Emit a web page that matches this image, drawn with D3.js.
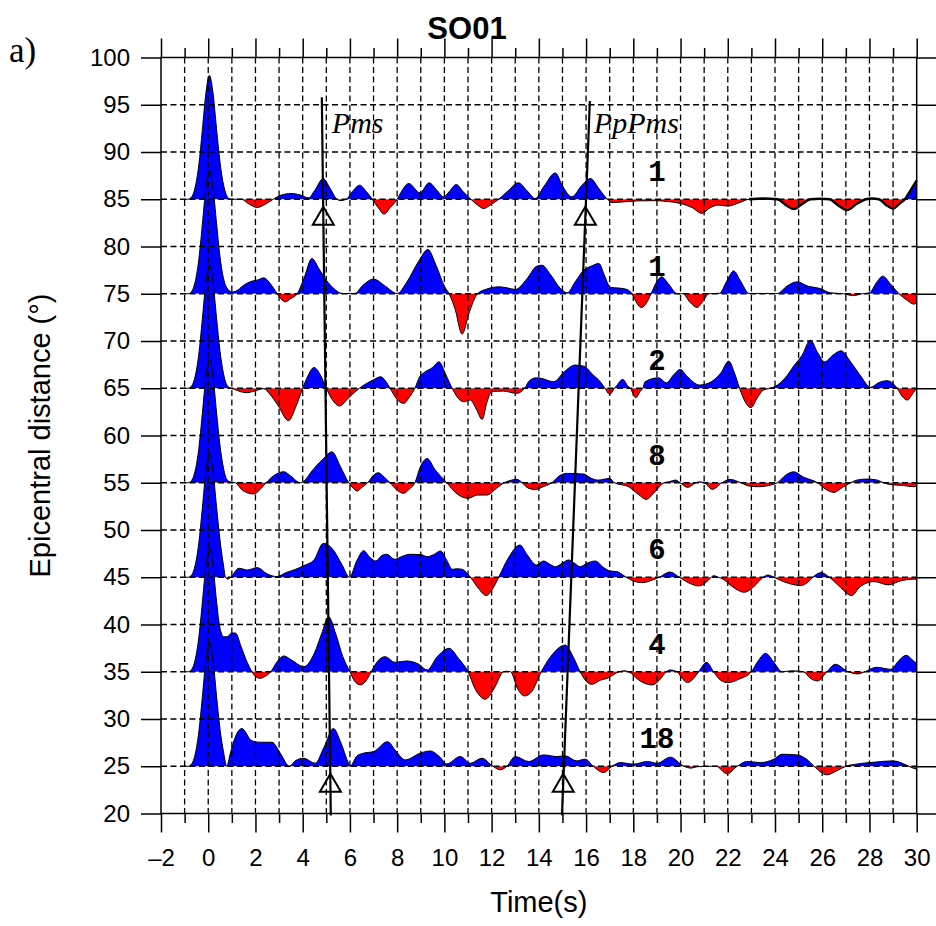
<!DOCTYPE html>
<html>
<head>
<meta charset="utf-8">
<script src="https://cdn.jsdelivr.net/npm/d3@7"></script>
<style>
  body { margin: 0; background: #fff; }
  svg { display: block; }
</style>
</head>
<body>
<svg id="chart" width="936" height="926"></svg>
<script>
// ---- labels ----
const titleText = "SO01";
const panelTag = "a)";
const xLabel = "Time(s)";
const yLabel = "Epicentral distance (°)";

// ---- axes ----
const xMajorTicks = [-2, 0, 2, 4, 6, 8, 10, 12, 14, 16, 18, 20, 22, 24, 26, 28, 30];
const xMinorTicks = [-1, 1, 3, 5, 7, 9, 11, 13, 15, 17, 19, 21, 23, 25, 27, 29];
const yTicks = [20, 25, 30, 35, 40, 45, 50, 55, 60, 65, 70, 75, 80, 85, 90, 95, 100];

// ---- stacked receiver functions: baseline distance and trace count ----
const traceOffsets = [85, 75, 65, 55, 45, 35, 25];
const traceCounts = ["1", "1", "2", "8", "6", "4", "18"];

// each trace: [time (s), amplitude]
const trace85 = [[-1,0],[-0.85,0],[-0.7,0.25],[-0.55,1.3],[-0.4,3.6],[-0.25,7.3],[-0.1,11.2],[0.05,13.1],[0.2,11.3],[0.35,7.5],[0.5,3.9],[0.65,1.5],[0.8,0.3],[0.95,0],
  [1.4,0],[1.75,-0.55],[2.07,-0.87],[2.4,-0.55],[2.75,0],
  [3.1,0.45],[3.5,0.61],[3.9,0.45],[4.25,0.15],
  [4.5,0.9],[4.87,2.19],[5.15,1.2],[5.45,0],[5.6,-0.15],[5.85,0],
  [6.1,0.8],[6.41,1.49],[6.7,0.8],[6.95,0],
  [7.2,-0.9],[7.45,-1.57],[7.7,-0.9],[8.0,0],
  [8.2,0.9],[8.49,1.67],[8.97,0.68],[9.35,1.74],[9.7,0.9],[9.97,0.26],
  [10.2,0.8],[10.5,1.56],[10.8,0.8],[11.12,0],
  [11.4,-0.6],[11.66,-0.98],[11.95,-0.6],[12.3,0],
  [12.7,0.9],[13.13,1.74],[13.5,0.9],[13.85,0.08],
  [14.2,1.3],[14.7,2.79],[15.0,1.4],[15.4,0.26],[15.8,1.4],[16.18,2.19],[16.55,1.1],[16.9,0],
  [17.1,-0.35],[17.5,-0.3],[18.2,-0.17],[18.9,-0.15],[19.5,-0.25],[20.0,-0.45],[20.5,-0.9],[20.9,-1.5],[21.25,-0.9],[21.6,-0.62],[22.0,-0.73],[22.5,-0.35],[22.9,0],
  [23.5,0.08],[24.1,0],
  [24.45,-0.6],[24.8,-1.05],[25.15,-0.5],[25.5,0],
  [25.9,0.05],[26.3,0],
  [26.65,-0.6],[27.05,-1.15],[27.45,-0.5],[27.85,0],
  [28.1,0.08],[28.4,0],
  [28.7,-0.6],[29.0,-0.98],[29.3,-0.4],[29.5,0],
  [29.75,1.0],[30,2.0]];

const trace75 = [[-1,0],[-0.85,0],[-0.7,0.25],[-0.55,1.3],[-0.4,3.6],[-0.25,7.3],[-0.1,11.2],[0.05,13.1],[0.2,11.3],[0.35,7.5],[0.5,3.9],[0.65,1.6],[0.8,0.6],[1.0,0.2],[1.15,0.25],
  [1.5,0.9],[1.8,1.3],[2.07,1.44],[2.35,1.68],[2.65,1.0],[2.92,0],
  [3.1,-0.6],[3.27,-0.85],[3.5,-0.5],[3.77,0],
  [4.05,1.6],[4.39,3.73],[4.7,2.6],[5.0,1.44],[5.3,0.6],[5.67,0.03],[6.2,0.03],
  [6.55,0.9],[7.0,1.55],[7.5,0.8],[8.0,0.03],
  [8.4,1.2],[8.9,3.4],[9.3,4.68],[9.65,3.0],[10.0,0.8],[10.2,0],
  [10.45,-1.6],[10.75,-4.27],[11.05,-2.0],[11.4,0],
  [11.8,0.5],[12.3,0.73],[12.7,0.6],[13.0,0.45],[13.5,1.6],[13.9,2.9],[14.13,3.02],[14.5,2.0],[14.9,0.6],[15.2,0.1],
  [15.55,1.3],[15.9,2.5],[16.2,2.9],[16.54,3.2],[16.8,1.8],[17.03,0.66],[17.4,0.6],[17.73,0.45],[17.95,0],
  [18.15,-1.0],[18.35,-1.45],[18.55,-1.0],[18.75,0],
  [19.0,1.3],[19.2,1.79],[19.5,1.0],[19.86,0],[20.1,0],
  [20.4,-0.9],[20.7,-1.45],[20.95,-0.8],[21.2,0],[21.65,0.05],
  [21.95,1.3],[22.25,2.42],[22.55,1.3],[22.9,0.03],[24.1,0.03],
  [24.5,0.8],[24.93,1.26],[25.4,0.8],[25.9,0.56],[26.35,0.1],[26.9,0],
  [27.3,-0.2],[27.7,0],[28.0,0.1],
  [28.3,1.2],[28.56,1.86],[28.9,1.0],[29.25,0],
  [29.6,-0.7],[29.88,-1.1],[30,-0.9]];

const trace65 = [[-1,0],[-0.85,0],[-0.7,0.25],[-0.55,1.3],[-0.4,3.6],[-0.25,7.3],[-0.1,11.2],[0.05,13.1],[0.2,11.3],[0.35,7.5],[0.5,3.9],[0.65,1.5],[0.8,0.3],[0.95,0],
  [1.1,-0.1],[1.35,-0.35],[1.65,-0.47],[1.95,-0.3],[2.35,-0.05],
  [2.6,-0.6],[2.95,-1.8],[3.4,-3.43],[3.7,-2.0],[4.0,0],
  [4.2,1.2],[4.48,2.2],[4.75,1.4],[5.0,0],
  [5.25,-1.2],[5.56,-1.88],[5.95,-1.0],[6.4,0],
  [6.7,0.5],[7.0,0.9],[7.3,1.22],[7.5,0.8],[7.7,0],
  [8.0,-1.2],[8.28,-1.6],[8.5,-1.0],[8.75,0],
  [8.95,1.2],[9.13,1.64],[9.5,2.2],[9.77,2.8],[10.05,1.5],[10.33,0],
  [10.6,-1.1],[10.83,-1.43],[11.1,-1.25],[11.35,-2.2],[11.6,-3.3],[11.8,-1.5],[12.0,-0.37],[12.5,-0.3],[13.06,-0.54],[13.4,0],
  [13.6,0.8],[13.9,1.11],[14.1,1.05],[14.62,0.69],[15.1,1.8],[15.53,2.45],[15.9,2.34],[16.3,1.4],[16.6,0.69],[16.8,0],
  [17.0,-0.65],[17.2,0],[17.3,0.3],[17.55,0.94],[17.75,0.3],[17.87,0],
  [18.1,-1.0],[18.3,-0.3],[18.4,0],
  [18.5,0.69],[19.07,1.11],[19.4,0.58],[19.7,1.4],[19.98,1.99],[20.3,1.2],[20.8,0.34],[21.3,0.69],[21.7,1.6],[22.04,2.87],[22.3,1.5],[22.5,0],
  [22.75,-1.5],[22.98,-2.06],[23.25,-1.0],[23.5,-0.2],[23.8,0],
  [24.1,0.34],[24.5,1.3],[24.8,2.38],[25.15,3.5],[25.5,5.09],[25.8,3.8],[26.1,2.8],[26.45,3.5],[26.8,3.96],[27.2,2.8],[27.6,1.39],[28.05,0.1],[28.4,0.6],[28.75,0.8],[29.0,0.5],[29.17,0],
  [29.4,-0.9],[29.6,-1.25],[29.85,-0.5],[30,0]];

const trace55 = [[-1,0],[-0.85,0],[-0.7,0.25],[-0.55,1.3],[-0.4,3.6],[-0.25,7.3],[-0.1,11.2],[0.05,13.1],[0.2,11.3],[0.35,7.5],[0.5,3.9],[0.65,1.5],[0.8,0.3],[1.0,0.05],[1.15,0],
  [1.45,-0.8],[1.93,-1.19],[2.2,-0.7],[2.45,0],
  [2.8,0.8],[3.2,1.17],[3.5,0.7],[3.9,0],[4.0,0.1],
  [4.48,1.52],[4.9,2.6],[5.24,3.27],[5.6,1.7],[5.95,0],
  [6.15,-0.6],[6.31,-0.88],[6.5,-0.5],[6.75,0],
  [7.0,0.8],[7.2,1.06],[7.45,0.6],[7.7,0],
  [8.0,-0.8],[8.28,-1.12],[8.5,-0.7],[8.75,0],
  [9.0,1.8],[9.27,2.57],[9.6,1.4],[10.1,0],
  [10.5,-1.1],[11.0,-1.65],[11.4,-1.3],[11.8,-1.3],[12.2,-0.6],[12.53,0],
  [12.8,0.25],[13.06,0.36],[13.3,0],
  [13.5,-0.5],[13.85,-0.72],[14.2,-0.4],[14.55,0],
  [14.85,0.7],[15.2,0.99],[15.9,0.92],[16.2,0.5],[16.5,0.28],[17.0,0.46],[17.2,0],
  [17.8,-0.42],[18.2,-1.2],[18.55,-1.76],[18.9,-1.0],[19.3,0],
  [19.5,0.1],[19.8,0.28],[19.98,0],
  [20.3,-0.49],[20.65,0],[20.8,0.1],[21.0,0],
  [21.35,-0.7],[21.75,0],
  [22.1,0.35],[22.56,0],
  [22.9,-0.35],[23.3,-0.42],[23.8,-0.25],[24.1,0],
  [24.45,0.8],[24.8,1.16],[25.2,0.6],[25.8,0],
  [26.15,-0.7],[26.5,-1.02],[26.85,-0.5],[27.2,0],
  [27.5,0.3],[27.9,0.39],[28.3,0.3],[28.6,0],
  [28.9,-0.2],[29.4,-0.28],[29.9,-0.42],[30,-0.35]];

const trace45 = [[-1,0],[-0.85,0],[-0.7,0.25],[-0.55,1.3],[-0.4,3.6],[-0.25,7.3],[-0.1,11.2],[0.05,13.1],[0.2,11.3],[0.35,7.5],[0.5,3.9],[0.65,1.2],[0.73,0],[0.83,-0.2],[0.95,0],
  [1.3,0.95],[1.66,0.77],[2.07,1.02],[2.5,0.35],[2.9,0.07],
  [3.3,0.5],[3.63,0.77],[4.05,1.23],[4.48,1.83],[4.87,3.58],[5.24,3.06],[5.67,1.3],[5.98,0],
  [6.3,1.8],[6.58,2.81],[6.85,2.1],[7.1,1.72],[7.35,2.3],[7.56,2.43],[7.9,1.9],[8.2,2.2],[8.55,2.43],[9.0,2.4],[9.27,2.18],[9.55,2.4],[9.83,2.78],[10.1,1.8],[10.33,0.84],[10.55,0.9],[10.75,0.84],[11.1,0],
  [11.45,-1.2],[11.77,-1.94],[12.05,-1.2],[12.3,0],
  [12.7,2.0],[13.2,3.41],[13.5,2.4],[13.9,1.3],[14.2,1.72],[14.45,1.4],[14.7,1.12],[15.0,1.5],[15.26,1.83],[15.5,1.5],[15.75,1.12],[16.05,1.5],[16.4,1.72],[16.7,1.1],[17.03,0.66],[17.3,0.6],[17.7,0],
  [18.0,-0.4],[18.4,-0.57],[18.8,-0.3],[19.1,0],
  [19.55,0.56],[19.95,0],
  [20.35,-0.6],[20.77,-0.92],[21.1,-0.5],[21.3,0],[21.4,0.17],[21.6,0],
  [21.8,-0.2],[22.2,-1.0],[22.7,-1.59],[23.1,-1.0],[23.5,0],
  [23.7,0.24],[23.95,0],
  [24.4,-0.5],[25.1,-0.88],[25.4,-0.5],[25.6,0],
  [25.95,0.49],[26.3,0],
  [26.7,-0.9],[27.25,-1.94],[27.6,-1.0],[28.2,-0.46],[28.8,-0.81],[29.3,-0.4],[29.86,-0.2],[30,-0.2]];

const trace35 = [[-1,0],[-0.85,0],[-0.7,0.25],[-0.55,1.3],[-0.4,3.6],[-0.25,7.3],[-0.1,11.2],[0.05,13.1],[0.2,11.3],[0.35,7.5],[0.5,4.6],[0.66,3.7],[0.8,3.7],[1.0,4.1],[1.15,4.1],[1.4,2.6],[1.65,1.0],[1.85,0],
  [2.0,-0.5],[2.2,-0.69],[2.4,-0.5],[2.65,0],
  [2.9,1.0],[3.2,1.67],[3.55,1.2],[4.05,0.54],
  [4.5,2.0],[4.8,4.0],[5.1,5.82],[5.4,4.0],[5.7,1.6],[6.0,0],
  [6.2,-1.0],[6.45,-1.39],[6.7,-0.9],[6.9,0],
  [7.2,1.2],[7.49,1.6],[7.9,1.0],[8.4,1.14],[8.9,0.82],[9.27,0.19],
  [9.7,1.6],[10.2,2.48],[10.6,1.4],[11.0,0],
  [11.3,-1.8],[11.73,-2.91],[12.1,-1.8],[12.5,0],[12.6,0.05],[12.8,0],
  [13.1,-1.8],[13.4,-2.56],[13.7,-2.1],[14.1,0],
  [14.5,1.6],[15.12,2.82],[15.45,1.6],[15.75,0],
  [16.0,-1.0],[16.25,-1.33],[16.6,-0.9],[16.9,-0.69],[17.4,0],[17.6,0.1],[17.8,0],
  [18.3,-1.0],[18.8,-1.4],[19.1,-0.9],[19.4,0],
  [19.55,0.19],[19.85,0],
  [20.1,-0.8],[20.3,-1.15],[20.55,-0.7],[20.77,0],
  [21.1,1.0],[21.4,0],
  [21.7,-0.9],[22.0,-1.15],[22.5,-0.76],[23.0,0],
  [23.3,1.2],[23.6,1.95],[23.95,1.0],[24.3,0],
  [24.7,0.1],[25.2,0],
  [25.5,-0.7],[25.8,-0.97],[26.2,0],
  [26.55,0.79],[27.1,0],
  [27.5,-0.23],[27.8,0],
  [28.3,0.47],[28.9,0.26],[29.25,1.2],[29.55,1.74],[29.9,1.07],[30,0.9]];

const trace25 = [[-1,0],[-0.85,0],[-0.7,0.25],[-0.55,1.3],[-0.4,3.6],[-0.25,7.3],[-0.1,11.2],[0.05,13.1],[0.2,11.3],[0.35,7.5],[0.5,3.9],[0.65,1.5],[0.78,0],
  [0.95,1.5],[1.2,3.4],[1.42,4.0],[1.84,2.71],[2.2,2.54],[2.7,2.54],[3.05,1.38],[3.44,0],
  [3.7,0.6],[4.04,0.85],[4.53,0.32],
  [4.9,2.0],[5.3,4.0],[5.6,2.6],[5.94,0.3],[6.0,0],
  [6.3,1.1],[6.57,1.38],[7.0,1.55],[7.59,2.6],[7.95,1.6],[8.34,0.67],[8.97,1.38],[9.4,1.62],[9.8,1.0],[10.1,0.25],[10.67,1.03],[11.1,0.32],[11.59,0.85],[12.05,0],
  [12.37,-0.38],[12.65,0],
  [13.0,1.03],[13.57,0.5],[14.2,1.2],[14.77,1.03],[15.12,1.1],[15.6,0.57],[15.97,0.75],[16.3,0],
  [16.74,-0.67],[17.1,0],
  [17.45,0.39],[18.0,0.22],[18.6,0.5],[19.0,0.32],[19.57,0.96],[20.14,0],
  [20.45,-0.2],[20.7,-0.05],[21.5,0],
  [21.97,-0.8],[22.4,0],
  [22.8,0.5],[23.4,0.39],[23.95,0.75],[24.3,1.27],[24.94,1.2],[25.37,0.68],[25.65,0],
  [26.2,-0.91],[26.6,-0.5],[27.0,0],
  [27.5,0.25],[28.2,0.43],[29.0,0.57],[29.67,0],
  [29.85,-0.2],[30,-0.3]];

const traceSeries = [trace85, trace75, trace65, trace55, trace45, trace35, trace25];

// predicted phase moveouts: [time, distance] end points
const pmsLine = [[4.81, 95.8], [5.19, 19.8]];
const ppPmsLine = [[16.16, 95.4], [14.98, 19.8]];
const markerDistances = [83.2, 23.2];
const countLabelTime = 19;
const countLabelLift = 1.9;

// ---- drawing ----
const svg = d3.select("#chart");
const x = d3.scaleLinear().domain([-2, 30]).range([161, 916.7]);
const y = d3.scaleLinear().domain([20, 100]).range([813.5, 57.5]);
const BLUE = "#0000ff", RED = "#ff0000";

const defs = svg.append("defs");
const traceLayer = svg.append("g");

traceOffsets.forEach((base, i) => {
  const pts = traceSeries[i];
  const by = y(base);
  defs.append("clipPath").attr("id", "pos" + i)
    .append("rect").attr("x", 0).attr("y", 0).attr("width", 936).attr("height", by);
  defs.append("clipPath").attr("id", "neg" + i)
    .append("rect").attr("x", 0).attr("y", by).attr("width", 936).attr("height", 926 - by);

  const area = d3.area()
    .x(d => x(d[0]))
    .y0(by)
    .y1(d => y(base + d[1]))
    .curve(d3.curveMonotoneX);
  const line = d3.line()
    .x(d => x(d[0]))
    .y(d => y(base + d[1]))
    .curve(d3.curveMonotoneX);

  const g = traceLayer.append("g");
  g.append("path").datum(pts).attr("d", area).attr("fill", BLUE).attr("clip-path", `url(#pos${i})`);
  g.append("path").datum(pts).attr("d", area).attr("fill", RED).attr("clip-path", `url(#neg${i})`);
  g.append("path").datum(pts).attr("d", line).attr("fill", "none").attr("stroke", "#000").attr("stroke-width", 1);
  if (base === 85) {
    g.append("path").datum(pts.filter(d => d[0] >= 22.9)).attr("d", line)
      .attr("fill", "none").attr("stroke", "#000").attr("stroke-width", 2.4);
  }
});

// dashed grid
const grid = svg.append("g").attr("stroke", "#000").attr("stroke-width", 1.3).attr("stroke-dasharray", "6,3.5");
const gridTimes = xMajorTicks.concat(xMinorTicks).filter(t => t > -2 && t < 30);
grid.selectAll("line.v").data(gridTimes).join("line")
  .attr("x1", d => x(d)).attr("x2", d => x(d))
  .attr("y1", y(100)).attr("y2", y(20));
grid.selectAll("line.h").data(yTicks.filter(v => v > 20 && v < 100)).join("line")
  .attr("x1", x(-2)).attr("x2", x(30))
  .attr("y1", d => y(d)).attr("y2", d => y(d));

// axes with outward ticks
const fmt = d => d < 0 ? "\u2013" + Math.abs(d) : String(d);
function styleAxis(g) {
  g.select(".domain").remove();
  g.selectAll(".tick line").attr("stroke", "#000").attr("stroke-width", 1.5);
  g.selectAll("text").attr("fill", "#000")
    .style("font-family", "'Liberation Sans', Arial, sans-serif").style("font-size", "24px");
}
svg.append("g").attr("transform", `translate(0,${y(20)})`)
  .call(d3.axisBottom(x).tickValues(xMajorTicks).tickSize(19).tickPadding(16).tickFormat(fmt)).call(styleAxis);
svg.append("g").attr("transform", `translate(0,${y(20)})`)
  .call(d3.axisBottom(x).tickValues(xMinorTicks).tickSize(9.5).tickFormat("")).call(styleAxis);
svg.append("g").attr("transform", `translate(0,${y(100)})`)
  .call(d3.axisTop(x).tickValues(xMajorTicks).tickSize(19).tickFormat("")).call(styleAxis);
svg.append("g").attr("transform", `translate(0,${y(100)})`)
  .call(d3.axisTop(x).tickValues(xMinorTicks).tickSize(9.5).tickFormat("")).call(styleAxis);
svg.append("g").attr("transform", `translate(${x(-2)},0)`)
  .call(d3.axisLeft(y).tickValues(yTicks).tickSize(20).tickPadding(11).tickFormat(d => String(d))).call(styleAxis);
svg.append("g").attr("transform", `translate(${x(30)},0)`)
  .call(d3.axisRight(y).tickValues(yTicks).tickSize(19.5).tickFormat("")).call(styleAxis);

// frame
svg.append("rect")
  .attr("x", x(-2)).attr("y", y(100))
  .attr("width", x(30) - x(-2)).attr("height", y(20) - y(100))
  .attr("fill", "none").attr("stroke", "#000").attr("stroke-width", 1.5);

// phase moveout lines and markers
const phaseLine = d3.line().x(d => x(d[0])).y(d => y(d[1]));
[pmsLine, ppPmsLine].forEach(seg => {
  svg.append("path").datum(seg).attr("d", phaseLine)
    .attr("fill", "none").attr("stroke", "#000").attr("stroke-width", 2.2);
  const tAt = dist => seg[0][0] + (seg[1][0] - seg[0][0]) * (dist - seg[0][1]) / (seg[1][1] - seg[0][1]);
  markerDistances.forEach(dist => {
    const cx = x(tAt(dist)), cy = y(dist);
    svg.append("path")
      .attr("d", `M${cx},${cy - 9.5}L${cx + 10.5},${cy + 8.5}L${cx - 10.5},${cy + 8.5}Z`)
      .attr("fill", "none").attr("stroke", "#000").attr("stroke-width", 2);
  });
});

const serif = "'Liberation Serif', 'Times New Roman', serif";
const sans = "'Liberation Sans', Arial, sans-serif";
svg.append("text").attr("x", x(pmsLine[0][0]) + 10).attr("y", 133)
  .style("font-family", serif).style("font-style", "italic").style("font-size", "30px").text("Pms");
svg.append("text").attr("x", x(ppPmsLine[0][0]) + 4).attr("y", 133)
  .style("font-family", serif).style("font-style", "italic").style("font-size", "30px").text("PpPms");

// trace counts
svg.append("g").selectAll("text").data(traceOffsets).join("text")
  .attr("x", x(countLabelTime)).attr("y", d => y(d + countLabelLift))
  .attr("text-anchor", "middle")
  .style("font-family", "'Liberation Mono', 'Courier New', monospace")
  .style("font-weight", "bold").style("font-size", "29px")
  .text((d, i) => traceCounts[i]);

// titles
svg.append("text").attr("x", 467).attr("y", 39).attr("text-anchor", "middle")
  .style("font-family", sans).style("font-weight", "bold").style("font-size", "31px").text(titleText);
svg.append("text").attr("x", 9).attr("y", 62)
  .style("font-family", serif).style("font-size", "35px").text(panelTag);
svg.append("text").attr("x", (x(-2) + x(30)) / 2).attr("y", 912).attr("text-anchor", "middle")
  .style("font-family", sans).style("font-size", "29px").text(xLabel);
svg.append("text").attr("transform", `translate(50,${(y(20) + y(100)) / 2}) rotate(-90)`)
  .attr("text-anchor", "middle")
  .style("font-family", sans).style("font-size", "29px").text(yLabel);
</script>
</body>
</html>
